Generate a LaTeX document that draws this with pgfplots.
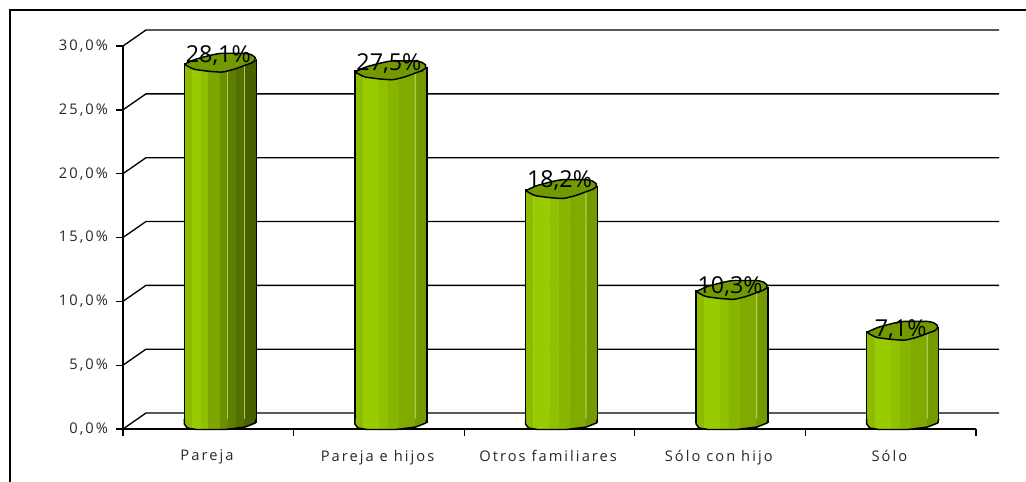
\documentclass[border=0pt]{standalone}
\usepackage{fontspec}
\setmainfont{Open Sans}
\newfontfamily\spaced[LetterSpace=14]{Open Sans}
\usepackage{pgfplots}
\usepackage{pgfplotstable}
\pgfplotsset{compat=1.18}

% 1 px of the reference = 0.75pt here
\definecolor{sa}{HTML}{8CBB00}
\definecolor{sb}{HTML}{99CC00}
\definecolor{sc}{HTML}{90C000}
\definecolor{sd}{HTML}{88B500}
\definecolor{se}{HTML}{80AA00}
\definecolor{sf}{HTML}{749A00}
\definecolor{da}{HTML}{8FBF00}
\definecolor{db}{HTML}{7DA600}
\definecolor{dc}{HTML}{6B8F00}
\definecolor{dd}{HTML}{5F7F00}
\definecolor{de}{HTML}{557000}
\definecolor{df}{HTML}{4A6000}
\definecolor{captop}{HTML}{739900}
\definecolor{hi}{HTML}{A9CC55}

\def\stripsA{0/8/sa,8/17/sb,17/24/da,24/36/db,36/44/dc,44/52/dd,52/60/de,60/72/df}
\def\stripsB{0/8/sa,8/24/sb,24/33/sc,33/44/sd,44/60/se,60/72/sf}

\newcommand\basecap[1]{%
  \begin{scope}[x=.75pt,y=-.75pt]
    \begin{scope}
      \clip[draw=none] (-36,-3) -- (-36,2) -- (-33,6) -- (-24,7.5) -- (5,7.5) -- (25,5) -- (35,1) -- (36,-3) -- cycle;
      \foreach \l/\r/\c in #1 {\fill[fill=\c,draw=none] (\l-36,-4) rectangle (\r-36+.3,9);}
    \end{scope}
    \draw[black,fill=none,line width=1.1pt,line join=round] (-36,-3) -- (-36,2) -- (-33,6) -- (-24,7.5) -- (5,7.5) -- (25,5) -- (35,1) -- (36,-3);
  \end{scope}}
\pgfdeclareplotmark{baseA}{\basecap{\stripsA}}
\pgfdeclareplotmark{baseB}{\basecap{\stripsB}}
% the wedge carries the right edge of the body up to the end of the top
\newcommand\topcap[1]{%
  \begin{scope}[x=.75pt,y=-.75pt]
    \fill[fill=#1,draw=none] (30,2) -- (36,2) -- (36,-4) -- cycle;
    \draw[black,fill=none,line width=1.1pt] (36,2) -- (36,-4);
    \draw[black,fill=captop,line width=1.1pt,rounded corners=1.5pt]
      (-36,1) -- (-27,6) -- (-12,8) -- (2,9) -- (14,6) -- (33,-1) -- (36,-4) -- (33,-8) -- (26,-10) -- (0,-10) -- (-10,-8) -- (-25,-4) -- cycle;
  \end{scope}}
\pgfdeclareplotmark{topA}{\topcap{df}}
\pgfdeclareplotmark{topB}{\topcap{sf}}

\pgfplotstableread{
x v base
0.5 28.1 0
}\tabA
\pgfplotstableread{
x v base
1.5 27.5 0
2.5 18.2 0
3.5 10.3 0
4.5 7.1 0
}\tabB

\newcommand\strip[4]{%
  \addplot[ybar,draw=none,fill=#3,bar width={(#2-#1+.3)*.75pt},bar shift={((#1+#2)/2-36)*.75pt},xshift=9pt,yshift=5.25pt]
    table[x=x,y=v] {#4};}

\begin{document}
\begin{tikzpicture}
\useasboundingbox (-92.25pt,-39.75pt) rectangle (677.25pt,321.75pt);
\draw[line width=1.1pt] (-84.75pt,-39.75pt) -- (-84.75pt,314.25pt) -- (677.25pt,314.25pt);
\begin{axis}[
    at={(0,0)},anchor=south west,
    scale only axis,
    width=639.75pt,height=287.25pt,
    xmin=0,xmax=5,ymin=0,ymax=30,
    clip=false,
    axis lines=left,
    axis line style={-,line width=1pt},
    xtick={0,1,2,3,4,5},
    xticklabels={Pareja,Pareja e hijos,Otros familiares,Sólo con hijo,Sólo},
    x tick label as interval=true,
    ytick={0,5,10,15,20,25,30},
    yticklabels={{0,0\%},{5,0\%},{10,0\%},{15,0\%},{20,0\%},{25,0\%},{30,0\%}},
    tick style={black,line width=1pt},
    tick align=outside,
    major tick length=5.25pt,
    tick label style={font=\spaced\fontsize{11}{13}\selectfont,text=black!85},
    yticklabel style={xshift=-2.5pt},
    xticklabel style={yshift=-7pt,xshift=-1pt},
    /pgf/number format/assume math mode=true,
]
\pgfplotsinvokeforeach{0,5,...,30}{
  \draw[black,line width=1pt] (axis cs:0,#1) -- ++(17.25pt,12pt) -- ++(639.75pt,0pt);
}
\strip{0}{8}{sa}{\tabA}
\strip{8}{17}{sb}{\tabA}
\strip{17}{24}{da}{\tabA}
\strip{24}{36}{db}{\tabA}
\strip{36}{44}{dc}{\tabA}
\strip{44}{52}{dd}{\tabA}
\strip{52}{60}{de}{\tabA}
\strip{60}{72}{df}{\tabA}
\strip{43}{44}{hi}{\tabA}
\strip{60}{61}{hi}{\tabA}
\strip{0}{8}{sa}{\tabB}
\strip{8}{24}{sb}{\tabB}
\strip{24}{33}{sc}{\tabB}
\strip{33}{44}{sd}{\tabB}
\strip{44}{60}{se}{\tabB}
\strip{60}{72}{sf}{\tabB}
\strip{60}{61}{hi}{\tabB}
% outlines
\addplot[ybar,draw=black,fill=none,line width=1.1pt,bar width=54pt,bar shift=0pt,xshift=9pt,yshift=5.25pt] table[x=x,y=v] {\tabA};
\addplot[ybar,draw=black,fill=none,line width=1.1pt,bar width=54pt,bar shift=0pt,xshift=9pt,yshift=5.25pt] table[x=x,y=v] {\tabB};
\addplot[only marks,mark=baseA,xshift=9pt,yshift=5.25pt] table[x=x,y=base] {\tabA};
\addplot[only marks,mark=baseB,xshift=9pt,yshift=5.25pt] table[x=x,y=base] {\tabB};
% tops with value labels, each label at its own height as in the reference
\pgfplotsset{lab/.style={only marks,xshift=9pt,yshift=5.25pt,
    point meta=y,
    nodes near coords={\pgfmathprintnumber[use comma,fixed,fixed zerofill,precision=1,assume math mode=true]{\pgfplotspointmeta}\%},
    every node near coord/.append style={anchor=center,xshift=-1.5pt,yshift=#1,text=black,font=\fontsize{17.5}{20}\selectfont}}}
\addplot[lab=5.5pt,mark=topA] coordinates {(0.5,28.1)};
\addplot[lab=5.5pt,mark=topB] coordinates {(1.5,27.5)};
\addplot[lab=6.5pt,mark=topB] coordinates {(2.5,18.2)};
\addplot[lab=3pt,mark=topB] coordinates {(3.5,10.3)};
\addplot[lab=1.5pt,mark=topB] coordinates {(4.5,7.1)};
\end{axis}
\end{tikzpicture}
\end{document}
